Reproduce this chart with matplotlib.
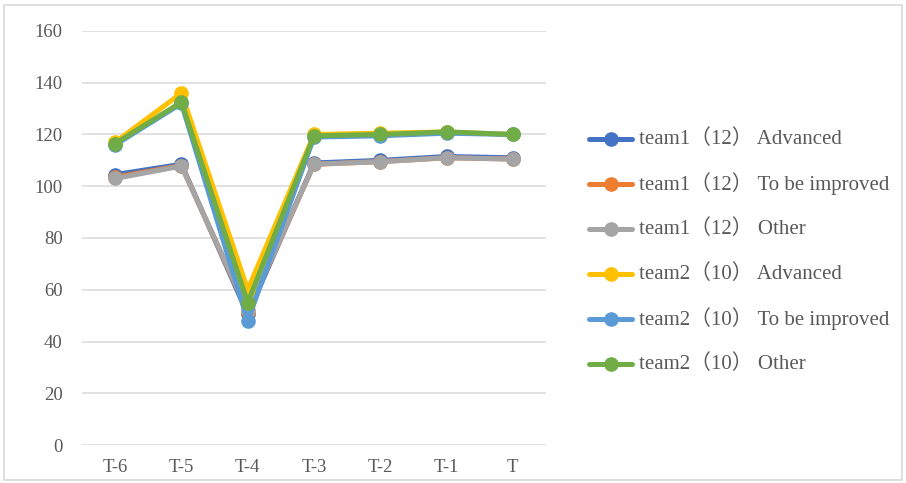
import matplotlib
matplotlib.use("Agg")
import matplotlib.pyplot as plt
from matplotlib.patches import Rectangle
from matplotlib.lines import Line2D

categories = ["T-6", "T-5", "T-4", "T-3", "T-2", "T-1", "T"]

team1_advanced = [104.5, 108.5, 50.5, 109.0, 110.0, 111.5, 111.0]
team1_improve = [103.5, 108.0, 51.5, 108.5, 109.5, 111.0, 110.5]
team1_other = [103.0, 107.8, 52.0, 108.5, 109.5, 111.0, 110.5]
team2_advanced = [117.0, 136.0, 60.0, 120.0, 120.5, 121.0, 120.0]
team2_improve = [116.0, 132.0, 48.0, 119.0, 119.5, 120.5, 120.0]
team2_other = [116.5, 132.5, 55.0, 119.5, 120.0, 121.0, 120.0]

series_labels = [
    "team1（12） Advanced",
    "team1（12） To be improved",
    "team1（12） Other",
    "team2（10） Advanced",
    "team2（10） To be improved",
    "team2（10） Other",
]
series_values = [team1_advanced, team1_improve, team1_other,
                 team2_advanced, team2_improve, team2_other]
colors = ["#4472C4", "#ED7D31", "#A5A5A5", "#FFC000", "#5B9BD5", "#70AD47"]

yticks = [0, 20, 40, 60, 80, 100, 120, 140, 160]

fonts = ["Liberation Serif", "Noto Sans CJK SC"]
text_color = "#595959"
LW, MS = 3.6, 9.5

W, H = 906, 483
fig = plt.figure(figsize=(W / 100, H / 100), dpi=100)
ax = fig.add_axes([82 / W, (H - 445) / H, (546 - 82) / W, (445 - 31) / H])

x = list(range(len(categories)))
for vals, lab, col in zip(series_values, series_labels, colors):
    ax.plot(x, vals, color=col, lw=LW, marker="o", ms=MS,
            solid_capstyle="round", solid_joinstyle="round", label=lab,
            zorder=3)

ax.set_xlim(-0.5, len(categories) - 0.5)
ax.set_ylim(0, 160)
ax.set_yticks(yticks)
ax.set_xticks(x)
ax.set_xticklabels(categories)
for s in ax.spines.values():
    s.set_visible(False)
ax.grid(axis="y", color="#D9D9D9", lw=1.1, zorder=0)
ax.tick_params(length=0, pad=10, colors=text_color, labelsize=13.5)
ax.tick_params(axis="y", pad=14)
for t in ax.get_xticklabels() + ax.get_yticklabels():
    t.set_fontfamily(fonts)

# Legend drawn as evenly spaced rows on the right
row0, step = 139, 45
for i, (lab, col) in enumerate(zip(series_labels, colors)):
    yy = 1 - (row0 + i * step) / H
    fig.add_artist(Line2D([589 / W, 632 / W], [yy, yy], transform=fig.transFigure,
                          color=col, lw=LW, solid_capstyle="round"))
    fig.add_artist(Line2D([610.5 / W], [yy], transform=fig.transFigure,
                          color=col, marker="o", ms=MS, lw=0))
    fig.text(639 / W, yy, lab, ha="left", va="center", color=text_color,
             fontsize=15, family=fonts)

fig.patches.append(Rectangle((4 / W, 3 / H), (W - 8) / W, (H - 8) / H,
                             transform=fig.transFigure, fill=False,
                             edgecolor="#D9D9D9", lw=1.2))

fig.savefig("out.png", dpi=100, facecolor="white")
